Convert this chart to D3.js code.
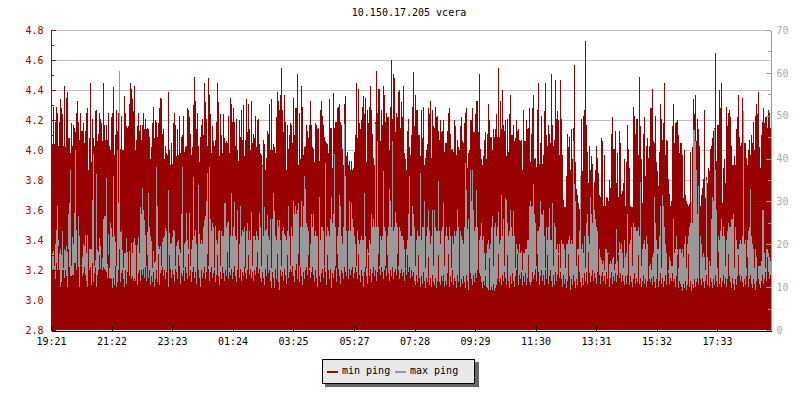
<!DOCTYPE html>
<html>
<head>
<meta charset="utf-8">
<style>
html,body{margin:0;padding:0;background:#fff}
svg{display:block}
text{font-family:"DejaVu Sans Mono",monospace;font-size:10px}
</style>
<script src="https://cdn.jsdelivr.net/npm/d3@7/dist/d3.min.js"></script>
</head>
<body>
<svg id="chart" width="800" height="400"></svg>
<script>
const title = "10.150.17.205 vcera";
const seriesNames = ["min ping", "max ping"];
const seriesColors = ["#990000", "#999999"];
const leftTicks = [2.8,3.0,3.2,3.4,3.6,3.8,4.0,4.2,4.4,4.6,4.8];
const leftMinor = [2.9,3.1,3.3,3.5,3.7,3.9,4.1,4.3,4.5,4.7];
const rightTicks = [0,10,20,30,40,50,60,70];
const rightMinor = [5,15,25,35,45,55,65];
const timeLabels = ["19:21","21:22","23:23","01:24","03:25","05:27","07:28","09:29","11:30","13:31","15:32","17:33"];

// upper envelope of the red columns (left axis), one per 2-minute step
const minPingPeak = [
4.18,4.04,4.29,4.04,4.19,4.29,4.25,4.03,4.19,4.34,4.28,4.24,4.03,4.43,4.02,4.35,4.39,4.08,4.08,3.98,4.18,4.03,4.17,4.15,4.12,4.25,4.33,4.19,4.07,4.25,
4.13,4.13,4.18,4.05,4.13,4.25,4.28,3.87,4.08,4.45,3.92,4.21,4.08,4.03,4.26,4.27,4.06,4.11,4.25,4.21,4.18,4.06,4.45,4.17,4.07,4.17,4.07,4.25,4.03,4.0,
4.22,4.25,4.42,3.97,4.10,4.27,4.13,4.25,3.92,4.01,4.23,4.0,4.0,4.36,4.25,4.16,4.15,4.16,4.31,4.45,4.41,4.34,4.26,4.43,4.0,4.07,4.16,4.25,4.13,4.17,
4.07,4.17,4.25,4.14,4.21,4.14,4.15,4.14,4.09,3.94,4.02,4.18,4.29,4.08,4.20,4.19,4.09,4.18,4.28,4.35,4.34,4.11,4.14,3.94,4.03,3.98,3.97,4.39,4.0,3.9,
4.05,3.91,4.18,4.25,4.17,3.96,4.14,3.97,4.23,3.98,4.09,4.1,4.23,3.99,4.02,4.03,4.28,4.27,4.22,4.11,3.97,4.02,4.3,4.49,4.33,4.14,4.25,4.03,3.92,4.09,
4.17,4.21,4.1,4.45,4.32,4.21,4.03,4.48,4.37,4.24,3.98,4.16,4.06,4.03,4.07,4.19,4.45,4.32,3.96,4.24,4.1,3.98,4.24,4.08,4.05,4.06,4.05,4.23,3.98,4.35,
4.31,4.19,4.28,4.19,4.03,4.21,4.0,3.93,4.2,4.09,4.27,4.07,4.3,3.96,4.07,4.34,4.12,4.31,4.14,4.0,4.33,4.05,4.11,4.08,4.23,4.02,4.2,4.21,4.04,3.98,
3.97,3.9,4.07,4.04,3.87,3.95,4.13,4.11,4.31,4.0,4.34,4.0,4.04,4.02,3.98,4.22,4.39,4.33,4.27,4.37,4.55,4.27,4.12,4.37,4.19,3.87,4.17,4.01,4.1,4.18,
4.17,4.05,4.35,4.1,4.28,4.28,4.51,3.9,4.25,3.94,4.43,4.29,3.97,4.02,4.03,4.17,4.13,4.08,4.17,4.33,4.17,4.02,4.01,3.92,4.18,4.17,4.14,4.15,3.93,4.27,
4.33,4.23,4.17,4.09,4.06,4.05,4.04,3.98,4.34,4.15,4.15,3.88,4.38,4.15,4.19,4.19,4.28,4.29,4.31,4.19,4.17,4.01,3.9,4.31,4.36,3.96,3.99,3.9,3.93,3.87,
3.93,3.87,3.88,3.99,4.1,4.45,4.08,4.41,4.18,4.14,4.2,4.29,4.36,4.24,4.35,3.92,4.27,4.18,4.29,4.43,4.27,4.11,3.95,3.9,4.19,4.53,4.25,4.41,4.41,4.06,
4.27,4.17,4.43,4.37,4.19,4.25,4.22,4.22,4.0,4.29,4.60,4.21,4.51,4.48,4.12,4.25,4.22,4.39,4.40,4.15,4.32,4.22,4.43,3.98,3.94,3.87,4.13,4.21,4.02,3.97,
4.1,4.29,4.52,4.16,4.37,4.27,4.27,4.1,4.1,3.96,4.27,4.08,4.29,3.9,3.95,4.0,4.04,4.28,4.24,4.33,3.95,4.27,4.16,4.15,4.29,4.22,4.23,4.13,4.07,4.2,
4.12,4.13,4.2,3.99,4.05,4.05,4.13,4.25,4.28,4.11,4.0,4.01,3.99,4.2,4.16,3.97,4.07,4.02,4.0,4.16,4.22,4.06,4.05,4.18,4.25,4.28,3.88,3.98,4.0,4.2,
4.2,4.28,4.12,4.12,4.24,4.33,4.33,4.12,4.51,4.01,3.94,3.9,3.96,4.07,4.12,3.94,4.11,4.31,4.2,4.09,4.09,4.0,4.14,4.09,4.14,4.24,4.09,4.55,4.09,4.33,
4.14,4.4,4.17,4.13,4.2,3.96,4.21,3.99,4.24,4.37,4.1,4.1,4.17,4.06,4.08,4.2,4.13,4.14,4.07,4.06,4.07,3.87,4.27,4.06,4.06,4.2,4.14,4.15,4.28,3.92,
4.11,4.28,4.37,3.94,3.95,3.89,4.27,4.45,3.91,4.05,4.23,3.91,3.97,4.26,4.45,4.1,4.03,4.17,4.11,4.05,4.51,4.17,4.03,4.07,4.47,4.21,4.26,4.2,3.97,4.47,
4.21,3.97,3.67,3.62,3.62,3.83,4.11,4.02,4.09,3.87,4.14,3.94,4.15,4.57,3.92,3.74,3.7,3.65,3.61,3.65,4.21,3.86,4.23,4.27,4.73,4.17,3.99,3.78,4.03,3.87,
3.96,3.91,3.74,3.79,3.87,4.03,3.95,3.85,3.7,3.69,4.08,4.06,3.63,3.97,3.63,3.69,3.68,3.66,3.8,3.75,4.11,4.22,4.01,4.01,4.13,3.78,3.98,3.69,4.13,4.05,
3.71,3.73,3.78,3.94,3.63,3.92,4.17,4.01,3.88,3.63,3.62,3.62,4.29,4.23,4.11,4.21,4.21,3.97,4.49,4.16,3.94,3.65,4.11,4.22,3.83,4.03,4.08,3.95,4.03,4.28,
4.28,4.41,4.06,4.05,4.23,3.92,3.86,3.76,3.99,4.31,4.21,4.07,4.18,4.45,3.97,4.07,4.06,3.81,3.71,3.63,3.66,4.16,4.31,4.05,4.18,4.19,4.2,4.1,3.98,4.05,
4.05,3.97,3.68,4.0,3.7,3.66,3.64,3.63,3.64,3.99,3.63,4.02,4.34,4.24,4.37,4.06,4.21,4.14,4.03,3.63,3.7,3.75,3.81,4.27,3.68,3.82,3.78,3.88,3.86,4.01,
4.03,4.08,4.13,4.15,4.65,3.93,4.17,4.17,4.4,4.28,4.45,3.65,3.88,3.94,3.78,4.29,4.16,4.25,4.27,4.22,4.03,3.9,3.9,3.96,3.9,4.14,4.22,4.37,4.09,4.03,
4.05,4.35,4.15,4.05,4.05,3.95,3.9,4.0,4.07,3.97,4.1,4.05,4.19,4.0,4.23,4.31,4.24,4.39,4.02,3.88,4.1,4.19,4.28,4.18,4.22,4.22,4.15,4.27,4.25,4.15
];

// grey columns (right axis, ms)
const maxPing = [
19.5,17.9,18.5,15,20,23.4,29,21,18,19,17.4,23,14.5,19,18.4,19.5,18.2,27,29.6,37.4,15,21.8,20,27.3,42,23.4,20.3,26.5,21.9,14,
15.2,17.1,20.1,19.5,22.2,17.9,22.2,14,19,19,19,30.4,41,15,16.4,36.5,18.7,18.2,21.4,19.5,15,16.8,26,26.5,26.5,35.5,15.5,22.5,14.5,25,
23.8,21.8,36,22,20.5,15,42,29.6,60.5,22.9,23,18.7,14.5,18,17.9,21.4,18.2,18,18.5,14,20.3,18,20.5,21.4,19.8,15,19.9,21.8,18,28.8,
27.1,33.2,28,25.7,22.2,15,22.8,32,24,22,20.8,14.5,18.5,15.6,16,38,29,19.5,19,19.5,15,20.5,21.4,22,23.8,23,14.5,32.7,22.6,20,
20.2,21.8,23.4,23,15,19.5,20.5,21,19,18,27,38,14.5,20,20.5,27.3,21,19,27.3,15,19,21,35.8,22,23.4,20,15,33.9,22.5,20,
21,20,24,25.7,26.5,30,36.6,15,38,26,23,25,24,14.5,24.2,21,20,23,23.4,15,23,22,22,29.6,29.6,24,25,25.4,14.5,22,
32,22,24,29.8,22,21,28,15,20,29,22,23.4,22.8,24,14.5,23,25,21,23,21,27.5,15,22,22,21,23,22,21,27.3,24,
15,38,22,28.8,23,23.5,26.9,22,21,26,14.5,26,32,27.7,22,21,25.7,24,25.7,21,15,23,24,22.5,22,21,23,29,22,15,
24,22,30,27,29,27,28,29.6,15,24,30,24,29,36,33,25,24,23,14.5,20,27,24,27,22,23,22,22,15,31,21,
24,24,23,15,39,22,24,23,22,26,31,25,27,41,24,14.5,22,24,31.5,29,22,20,24,48,36,23,15,23,30,23,
29.6,26,24,22,20,15,23,21,20,21,22,21,21,32,22,14.5,19,18,21,20,27,24,26,24,48,24,44,24,15,22,
21,22,37,24,23,14.5,22,24,33,30,24,44,23,24,27.5,25,24,15,24,23,22,22,21,19,14.5,19,21,27,36,22,
22,29,27,24,15,21,23,22,22,36.6,21,24,24,30,14.5,22,24,28,23,20,22,28,15,28,24,23,23,34.7,23,20,
23,24,29.6,15,22,24,22,21,24,22,14.5,22,20,23,22,23,28,24,15,23,22,21,20,24,39,32.7,23.5,26,14.5,37.4,
30,37.4,28,23,24,32.7,24,15,21,22,25,21,22,18,14,18,20,21,19,20,24,26.5,15,24,25,22,24,27.5,20,21,
31.6,22,26,15,30.8,30.4,25,22,23,28,24,22,27.7,22,14.5,20,19,18,20,18,18.5,14,18,18,19,19,21,21,29,30,
28.8,29,34,27,25,15,23,23,24,30,27,26.9,28,22,14.5,24,21,24,28.5,21,21,29.6,15,25,24,19,20,18,20,14.5,
21,20,20,19,14.5,20,20,21,22,20,21,20,44,34,30,15,19,19,23,36,19,20,18,22,14.5,25,27,22,20,31,
27,25,33,28,26,24,23,15,19,17,16.4,15.5,16,14,19,19,18,18,15.5,16,15.5,16.5,17,14,15.5,23.5,16,18,20.5,19,
20,18,14.5,21,17,18,27,17,20,21,24,15,25,24,24,23,23,24,22,34.5,15,19,20,21,19,22,20,15,15,15.5,
14,17,18,31,25,21,19,19,22,29,14.5,31.5,29,24,20,18,17,14,17,16,15,15,26,18,19,22,19,14.5,19,19,
18,19,17,20,22,14.5,20,22,24,25,30,25,46.7,46.7,44,37.4,27,33.5,15,22,20,17,18,17,14,35,17,17,16,15,
26,31,30,47,37.4,28,14.5,22,21,23,26,22,24,22,15,21,23,25,24,24,26,26,27,14.5,24,21,19,19,20,21,
20,22,51,20,21,14.5,21,23,24,33,22,20,19,14.5,19,17,16,15,15,15,16,28,28,18,14.5,19,19,18,17,16
];

// lower red layer (left axis): top of the solid red band at the bottom
const minPingFloor = [
3.2,3.2,3.21,3.2,3.14,3.25,3.2,3.36,3.2,3.09,3.12,3.2,3.2,3.15,3.2,3.16,3.09,3.34,3.22,3.16,3.16,3.17,3.17,3.25,3.25,3.2,3.38,3.22,3.09,3.2,
3.23,3.16,3.18,3.22,3.17,3.13,3.09,3.31,3.2,3.22,3.1,3.25,3.12,3.18,3.22,3.09,3.17,3.2,3.3,3.21,3.23,3.2,3.22,3.21,3.2,3.19,3.15,3.3,3.15,3.15,
3.14,3.08,3.15,3.1,3.23,3.09,3.12,3.2,3.34,3.12,3.18,3.2,3.14,3.09,3.2,3.11,3.19,3.37,3.16,3.2,3.14,3.16,3.13,3.15,3.13,3.33,3.1,3.18,3.2,3.13,
3.2,3.17,3.21,3.15,3.22,3.13,3.3,3.15,3.2,3.1,3.16,3.12,3.19,3.09,3.14,3.2,3.12,3.31,3.1,3.18,3.2,3.22,3.16,3.2,3.14,3.19,3.22,3.09,3.3,3.21,
3.15,3.2,3.17,3.12,3.21,3.19,3.14,3.3,3.23,3.11,3.18,3.16,3.2,3.13,3.22,3.18,3.14,3.31,3.16,3.2,3.12,3.19,3.22,3.15,3.19,3.11,3.29,3.2,3.15,3.09,
3.2,3.15,3.18,3.22,3.14,3.19,3.31,3.21,3.13,3.19,3.22,3.15,3.18,3.2,3.12,3.17,3.3,3.16,3.1,3.19,3.14,3.22,3.18,3.13,3.2,3.16,3.32,3.14,3.19,3.17,
3.21,3.14,3.19,3.23,3.16,3.12,3.2,3.31,3.15,3.21,3.13,3.19,3.16,3.22,3.18,3.14,3.2,3.3,3.17,3.21,3.15,3.19,3.13,3.2,3.17,3.22,3.32,3.18,3.21,3.15,
3.12,3.19,3.15,3.1,3.21,3.16,3.3,3.18,3.2,3.13,3.08,3.19,3.15,3.08,3.21,3.14,3.31,3.12,3.07,3.2,3.16,3.19,3.13,3.21,3.17,3.11,3.3,3.15,3.19,3.21,
3.19,3.23,3.16,3.12,3.2,3.24,3.14,3.31,3.12,3.22,3.16,3.1,3.19,3.14,3.2,3.22,3.17,3.3,3.2,3.15,3.19,3.22,3.17,3.12,3.2,3.15,3.09,3.32,3.16,3.12,
3.18,3.21,3.15,3.22,3.19,3.1,3.3,3.2,3.14,3.21,3.08,3.18,3.15,3.2,3.23,3.12,3.31,3.21,3.16,3.11,3.2,3.18,3.14,3.22,3.19,3.16,3.3,3.14,3.21,3.17,
3.2,3.22,3.15,3.18,3.22,3.19,3.14,3.31,3.17,3.12,3.2,3.16,3.09,3.19,3.22,3.16,3.11,3.3,3.16,3.21,3.12,3.18,3.22,3.16,3.2,3.13,3.19,3.31,3.21,3.17,
3.22,3.19,3.14,3.2,3.23,3.16,3.3,3.18,3.13,3.2,3.16,3.22,3.14,3.19,3.21,3.17,3.31,3.2,3.14,3.18,3.21,3.16,3.19,3.13,3.21,3.17,3.3,3.19,3.22,3.15,
3.2,3.16,3.19,3.13,3.1,3.17,3.12,3.3,3.15,3.09,3.16,3.11,3.19,3.13,3.08,3.15,3.12,3.29,3.1,3.15,3.09,3.17,3.12,3.1,3.15,3.08,3.13,3.3,3.12,3.1,
3.16,3.13,3.17,3.09,3.13,3.1,3.18,3.31,3.09,3.16,3.12,3.2,3.1,3.15,3.13,3.08,3.17,3.12,3.29,3.09,3.14,3.11,3.16,3.12,3.08,3.17,3.13,3.07,3.3,3.18,
3.14,3.1,3.17,3.12,3.18,3.15,3.2,3.31,3.18,3.16,3.12,3.08,3.13,3.1,3.16,3.09,3.08,3.07,3.28,3.07,3.09,3.07,3.11,3.06,3.08,3.1,3.14,3.31,3.12,3.15,
3.1,3.17,3.13,3.19,3.15,3.1,3.3,3.13,3.08,3.16,3.11,3.18,3.13,3.09,3.16,3.2,3.31,3.1,3.17,3.14,3.19,3.1,3.16,3.12,3.18,3.1,3.15,3.3,3.12,3.1,
3.12,3.19,3.14,3.17,3.21,3.13,3.31,3.19,3.1,3.16,3.2,3.13,3.17,3.1,3.2,3.14,3.3,3.11,3.16,3.2,3.13,3.09,3.17,3.1,3.19,3.13,3.17,3.3,3.15,3.19,
3.14,3.09,3.17,3.11,3.14,3.08,3.13,3.31,3.16,3.07,3.14,3.1,3.17,3.13,3.08,3.14,3.1,3.3,3.19,3.12,3.09,3.15,3.1,3.18,3.13,3.19,3.11,3.32,3.18,3.12,
3.16,3.2,3.13,3.18,3.15,3.11,3.19,3.3,3.17,3.11,3.16,3.19,3.13,3.16,3.11,3.19,3.14,3.31,3.09,3.15,3.19,3.11,3.16,3.13,3.18,3.12,3.17,3.3,3.15,3.18,
3.12,3.17,3.13,3.1,3.16,3.11,3.17,3.29,3.1,3.16,3.12,3.09,3.14,3.18,3.11,3.15,3.12,3.3,3.11,3.15,3.09,3.13,3.17,3.11,3.14,3.09,3.13,3.29,3.14,3.12,
3.15,3.1,3.16,3.12,3.08,3.14,3.31,3.09,3.13,3.18,3.11,3.15,3.09,3.13,3.17,3.1,3.29,3.18,3.11,3.15,3.13,3.18,3.12,3.14,3.09,3.16,3.3,3.08,3.13,3.11,
3.09,3.06,3.11,3.08,3.13,3.07,3.1,3.31,3.09,3.13,3.06,3.11,3.08,3.14,3.09,3.12,3.15,3.11,3.3,3.14,3.1,3.15,3.12,3.08,3.13,3.17,3.1,3.31,3.09,3.15,
3.12,3.08,3.14,3.1,3.17,3.13,3.09,3.32,3.11,3.15,3.09,3.13,3.17,3.11,3.15,3.09,3.14,3.31,3.16,3.12,3.08,3.15,3.11,3.07,3.14,3.1,3.16,3.3,3.17,3.13,
3.16,3.12,3.09,3.14,3.1,3.16,3.29,3.09,3.14,3.17,3.11,3.08,3.14,3.11,3.07,3.13,3.3,3.14,3.11,3.08,3.13,3.17,3.11,3.14,3.19,3.13,3.29,3.19,3.14,3.17
];

const plotLeft = 51, plotRight = 771, plotTop = 30, plotBottom = 330;
const svg = d3.select("#chart");

const x = d3.scaleLinear().domain([0, 720]).range([plotLeft, plotRight]);
const xTime = d3.scaleLinear().domain([0, 1440]).range([plotLeft, plotRight]);
const yL = d3.scaleLinear().domain([2.8, 4.8]).range([plotBottom, plotTop]);
const yR = d3.scaleLinear().domain([0, 70]).range([plotBottom, plotTop]);

const toMin = s => { const [h, m] = s.split(":").map(Number); return ((h * 60 + m) - (19 * 60 + 21) + 1440) % 1440; };

svg.append("g").selectAll("line").data(leftTicks.slice(1)).join("line")
  .attr("x1", plotLeft).attr("x2", plotRight - 1)
  .attr("y1", d => Math.round(yL(d)) + 0.5).attr("y2", d => Math.round(yL(d)) + 0.5)
  .attr("stroke", "#c0c0c0").attr("stroke-width", 1);

function bars(data, scale, color) {
  svg.append("g").attr("shape-rendering", "crispEdges").selectAll("rect").data(data).join("rect")
    .attr("x", (d, i) => x(i)).attr("width", 1)
    .attr("y", d => scale(d)).attr("height", d => plotBottom - scale(d))
    .attr("fill", color);
}
bars(minPingPeak, yL, seriesColors[0]);
bars(maxPing, yR, seriesColors[1]);
bars(minPingFloor, yL, seriesColors[0]);

function axisStyle(g, color, textColor) {
  g.attr("shape-rendering", "crispEdges");
  g.selectAll("line,path").attr("stroke", color);
  g.selectAll("text").attr("fill", textColor).attr("font-family", '"DejaVu Sans Mono",monospace').attr("font-size", 10);
}

const gL = svg.append("g").attr("transform", `translate(${plotLeft - 0.5},0)`)
  .call(d3.axisLeft(yL).tickValues(leftTicks).tickFormat(d3.format(".1f")).tickSizeInner(-5).tickSizeOuter(0).tickPadding(7));
gL.call(axisStyle, "#990000", "#990000");
const gLm = svg.append("g").attr("transform", `translate(${plotLeft - 0.5},0)`)
  .call(d3.axisLeft(yL).tickValues(leftMinor).tickFormat("").tickSizeInner(-3).tickSizeOuter(0));
gLm.call(axisStyle, "#990000", "#990000");
gLm.select("path").remove();

const gR = svg.append("g").attr("transform", `translate(${plotRight - 0.5},0)`)
  .call(d3.axisRight(yR).tickValues(rightTicks).tickSizeInner(-5).tickSizeOuter(0).tickPadding(6));
gR.call(axisStyle, "#999999", "#aaaaaa");
const gRm = svg.append("g").attr("transform", `translate(${plotRight - 0.5},0)`)
  .call(d3.axisRight(yR).tickValues(rightMinor).tickFormat("").tickSizeInner(-3).tickSizeOuter(0));
gRm.call(axisStyle, "#999999", "#aaaaaa");
gRm.select("path").remove();

const gB = svg.append("g").attr("transform", `translate(0,${plotBottom + 0.5})`)
  .call(d3.axisBottom(xTime).tickValues(timeLabels.map(toMin)).tickFormat((d, i) => timeLabels[i]).tickSizeInner(-5).tickSizeOuter(0).tickPadding(7));
gB.call(axisStyle, "#000000", "#000000");

svg.append("text").attr("x", 409).attr("y", 16).attr("text-anchor", "middle").attr("fill", "#000").text(title);

// legend
const lg = svg.append("g").attr("shape-rendering", "crispEdges");
lg.append("rect").attr("x", 325).attr("y", 362).attr("width", 154).attr("height", 25).attr("fill", "#666666");
lg.append("rect").attr("x", 322.5).attr("y", 359.5).attr("width", 152).attr("height", 24).attr("fill", "#e8e8e8").attr("stroke", "#000");
const lgX = [327, 395];
seriesNames.forEach((n, i) => {
  lg.append("rect").attr("x", lgX[i]).attr("y", 371).attr("width", 11).attr("height", 2).attr("fill", seriesColors[i]);
  svg.append("text").attr("x", lgX[i] + 15).attr("y", 374).attr("fill", "#000").text(n);
});
</script>
</body>
</html>
